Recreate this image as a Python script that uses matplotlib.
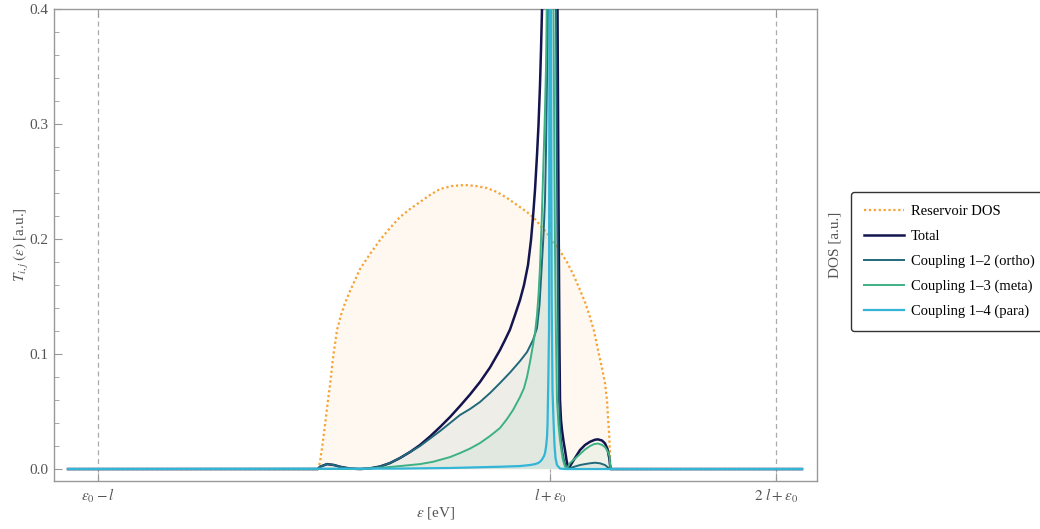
import numpy as np
import matplotlib
matplotlib.use('Agg')
import matplotlib.pyplot as plt
from matplotlib.ticker import MultipleLocator

# energies in eV (eps0 = 3.24, l = 2.26), transmission / DOS in a.u.
eps0 = 3.24
hop = 2.26

dos_x = [0.68, 3.18, 3.20, 3.22, 3.25, 3.28, 3.30, 3.33, 3.37, 3.41,
         3.45, 3.50, 3.55, 3.60, 3.70, 3.80, 3.90, 4.00, 4.10, 4.20,
         4.30, 4.40, 4.52, 4.65, 4.76, 4.87, 4.97, 5.07, 5.17, 5.27,
         5.34, 5.40, 5.47, 5.53, 5.60, 5.67, 5.74, 5.80, 5.85, 5.90,
         5.94, 5.98, 6.02, 6.05, 6.07, 6.08, 6.092, 6.10, 6.105, 8.02]
dos_y = [0, 0, 0.0061, 0.0183, 0.0383, 0.0600, 0.0730, 0.0965, 0.1209, 0.1339,
         0.1443, 0.1548, 0.1643, 0.1739, 0.1870, 0.1991, 0.2096, 0.2191, 0.2261, 0.2322,
         0.2383, 0.2435, 0.2461, 0.2470, 0.2461, 0.2443, 0.2409, 0.2357, 0.2296, 0.2235,
         0.2183, 0.2122, 0.2052, 0.1974, 0.1896, 0.1800, 0.1678, 0.1557, 0.1452, 0.1322,
         0.1200, 0.1035, 0.0878, 0.0748, 0.0600, 0.0452, 0.0296, 0.0139, 0, 0]

total_x = [0.68, 3.18, 3.20, 3.27, 3.34, 3.40, 3.50, 3.60, 3.70, 3.80,
           3.90, 4.00, 4.10, 4.20, 4.30, 4.40, 4.50, 4.60, 4.70, 4.80,
           4.90, 5.00, 5.05, 5.10, 5.15, 5.20, 5.24, 5.28, 5.31, 5.33,
           5.35, 5.37, 5.385, 5.40, 5.41, 5.42, 5.425, 5.50, 5.565, 5.575,
           5.585, 5.595, 5.60, 5.61, 5.62, 5.635, 5.65, 5.665, 5.683, 5.70,
           5.725, 5.75, 5.80, 5.85, 5.90, 5.95, 5.98, 6.02, 6.05, 6.075,
           6.093, 6.105, 8.02]
total_y = [0, 0, 0.0020, 0.0043, 0.0035, 0.0020, 0.0004, 0, 0.0006, 0.0022,
           0.0052, 0.0096, 0.0148, 0.0209, 0.0283, 0.0365, 0.0452, 0.0548, 0.0648, 0.0757,
           0.0883, 0.1035, 0.1122, 0.1213, 0.1339, 0.1470, 0.1600, 0.1774, 0.1991, 0.2191,
           0.2426, 0.2730, 0.2991, 0.3339, 0.3643, 0.3991, 0.43, 0.6, 0.43, 0.3991,
           0.2339, 0.1035, 0.0600, 0.0426, 0.0339, 0.0243, 0.0165, 0.0078, 0.0004, 0.0026,
           0.0061, 0.0096, 0.0165, 0.0209, 0.0237, 0.0255, 0.0258, 0.0248, 0.0223, 0.0174,
           0.0093, 0, 0]

ortho_x = [0.68, 3.18, 3.20, 3.27, 3.34, 3.40, 3.50, 3.60, 3.70, 3.80,
           3.90, 4.00, 4.10, 4.20, 4.30, 4.40, 4.50, 4.60, 4.70, 4.80,
           4.90, 5.00, 5.10, 5.20, 5.27, 5.33, 5.37, 5.395, 5.417, 5.435,
           5.45, 5.46, 5.467, 5.475, 5.48, 5.485, 5.52, 5.555, 5.56, 5.568,
           5.575, 5.583, 5.59, 5.60, 5.61, 5.625, 5.64, 5.655, 5.667, 5.70,
           5.75, 5.80, 5.85, 5.90, 5.95, 6.00, 6.05, 6.09, 6.105, 8.02]
ortho_y = [0, 0, 0.0020, 0.0043, 0.0035, 0.0020, 0.0004, 0, 0.0006, 0.0022,
           0.0052, 0.0096, 0.0148, 0.0200, 0.0265, 0.0330, 0.0400, 0.0470, 0.0522, 0.0583,
           0.0661, 0.0748, 0.0839, 0.0939, 0.1017, 0.1122, 0.1226, 0.1426, 0.1757, 0.2035,
           0.2339, 0.2774, 0.3209, 0.3643, 0.3991, 0.43, 0.6, 0.43, 0.3991, 0.2774,
           0.1904, 0.1122, 0.0600, 0.0383, 0.0252, 0.0148, 0.0078, 0.0030, 0, 0.0009,
           0.0022, 0.0035, 0.0043, 0.0050, 0.0055, 0.0050, 0.0035, 0.0006, 0, 0]

meta_x = [0.68, 3.60, 3.80, 4.00, 4.20, 4.33, 4.50, 4.60, 4.70, 4.80,
          4.90, 5.00, 5.07, 5.13, 5.20, 5.24, 5.27, 5.30, 5.33, 5.35,
          5.37, 5.385, 5.40, 5.417, 5.433, 5.45, 5.46, 5.467, 5.47, 5.50,
          5.53, 5.535, 5.543, 5.55, 5.56, 5.57, 5.585, 5.60, 5.615, 5.63,
          5.648, 5.667, 5.70, 5.75, 5.80, 5.85, 5.90, 5.94, 5.98, 6.02,
          6.05, 6.075, 6.095, 6.105, 8.02]
meta_y = [0, 0, 0.0010, 0.0026, 0.0043, 0.0063, 0.0104, 0.0139, 0.0178, 0.0226,
          0.0287, 0.0357, 0.0435, 0.0513, 0.0626, 0.0704, 0.0800, 0.0930, 0.1078, 0.1183,
          0.1339, 0.1513, 0.1757, 0.2165, 0.2626, 0.3122, 0.3496, 0.3991, 0.43, 0.6,
          0.43, 0.3991, 0.2774, 0.1904, 0.1122, 0.0600, 0.0383, 0.0252, 0.0157, 0.0078,
          0.0026, 0, 0.0052, 0.0091, 0.0130, 0.0170, 0.0200, 0.0217, 0.0222, 0.0210,
          0.0191, 0.0157, 0.0113, 0, 0]

para_x = [0.68, 4.00, 4.50, 5.00, 5.20, 5.30, 5.35, 5.38, 5.40, 5.42,
          5.44, 5.45, 5.46, 5.47, 5.475, 5.483, 5.49, 5.495, 5.50, 5.51,
          5.517, 5.525, 5.535, 5.545, 5.555, 5.57, 5.60, 5.66, 8.02]
para_y = [0, 0.0004, 0.0009, 0.0020, 0.0026, 0.0035, 0.0043, 0.0052, 0.0063, 0.0083,
          0.0113, 0.0139, 0.0191, 0.0278, 0.0383, 0.0774, 0.1209, 0.3991, 0.6, 0.3991,
          0.1470, 0.0687, 0.0426, 0.0209, 0.0096, 0.0035, 0.0004, 0, 0]

labels = ['Reservoir DOS', 'Total', 'Coupling 1\u20132 (ortho)',
          'Coupling 1\u20133 (meta)', 'Coupling 1\u20134 (para)']
xticks = [eps0 - hop, hop + eps0, 2*hop + eps0]
xticklabels = [r'$\epsilon_0-l$', r'$l+\epsilon_0$', r'$2\ l+\epsilon_0$']

c_dos = '#f7a232'
c_tot = '#14144f'
c_orth = '#21687a'
c_meta = '#3db184'
c_para = '#33b5d8'
c_txt = '#555555'

plt.rcParams['font.family'] = ['Liberation Serif', 'DejaVu Serif']
plt.rcParams['mathtext.fontset'] = 'stix'

fig = plt.figure(figsize=(10.4, 5.29), dpi=100)
ax = fig.add_axes([54/1040, 48/529, 763/1040, 472/529])

for xv in xticks:
    ax.axvline(xv, color='#aaaaaa', ls=(0, (4, 3)), lw=0.9, zorder=1)

ax.fill_between(dos_x, 0, dos_y, color='#fef8f0', lw=0, zorder=1.5)
ax.fill_between(ortho_x, 0, ortho_y, color=c_orth, alpha=0.07, lw=0, zorder=1.6)
ax.fill_between(meta_x, 0, meta_y, color=c_meta, alpha=0.07, lw=0, zorder=1.6)
ax.fill_between(para_x, 0, para_y, color=c_para, alpha=0.07, lw=0, zorder=1.6)

ax.plot(dos_x, dos_y, color=c_dos, ls=(0, (1, 1.2)), lw=1.6, zorder=2, label=labels[0])
ax.plot(total_x, total_y, color=c_tot, lw=1.8, zorder=3, label=labels[1])
ax.plot(ortho_x, ortho_y, color=c_orth, lw=1.4, zorder=3, label=labels[2])
ax.plot(meta_x, meta_y, color=c_meta, lw=1.4, zorder=3, label=labels[3])
ax.plot(para_x, para_y, color=c_para, lw=1.6, zorder=3, label=labels[4])

ax.set_xlim(0.54, 8.17)
ax.set_ylim(-0.0104, 0.4)

ax.set_xticks(xticks)
ax.set_xticklabels(xticklabels)
ax.yaxis.set_major_locator(MultipleLocator(0.1))
ax.yaxis.set_minor_locator(MultipleLocator(0.02))
ax.yaxis.set_major_formatter(plt.FuncFormatter(lambda v, p: '%.1f' % v))

for s in ax.spines.values():
    s.set_color('#999999')
    s.set_linewidth(1.0)
ax.tick_params(which='both', direction='in', color='#999999', labelcolor=c_txt,
               labelsize=11, right=True, top=True)
ax.tick_params(which='major', length=6, width=0.8)
ax.tick_params(which='minor', length=3.5, width=0.6)
ax.tick_params(axis='x', pad=4)
ax.tick_params(axis='y', pad=4)

ax2 = ax.twinx()
ax2.set_ylim(ax.get_ylim())
ax2.set_yticks([])
ax2.set_ylabel('DOS [a.u.]', color=c_txt, fontsize=11, labelpad=8)
for s in ax2.spines.values():
    s.set_visible(False)

ax.set_ylabel(r'$T_{i,j}\,(\epsilon)$ [a.u.]', color=c_txt, fontsize=11, labelpad=-1)
ax.set_xlabel(r'$\epsilon$ [eV]', color=c_txt, fontsize=11, labelpad=0)

leg = ax.legend(loc='upper left', bbox_to_anchor=(851/1040, 1 - 192/529),
                bbox_transform=fig.transFigure, fontsize=10.5, frameon=True,
                fancybox=True, handlelength=2.75, labelspacing=0.8,
                borderpad=0.87, handletextpad=0.5, borderaxespad=0)
leg.get_frame().set_edgecolor('#333333')
leg.get_frame().set_linewidth(1.0)
leg.get_frame().set_alpha(1)

fig.savefig('out.png', dpi=100)
